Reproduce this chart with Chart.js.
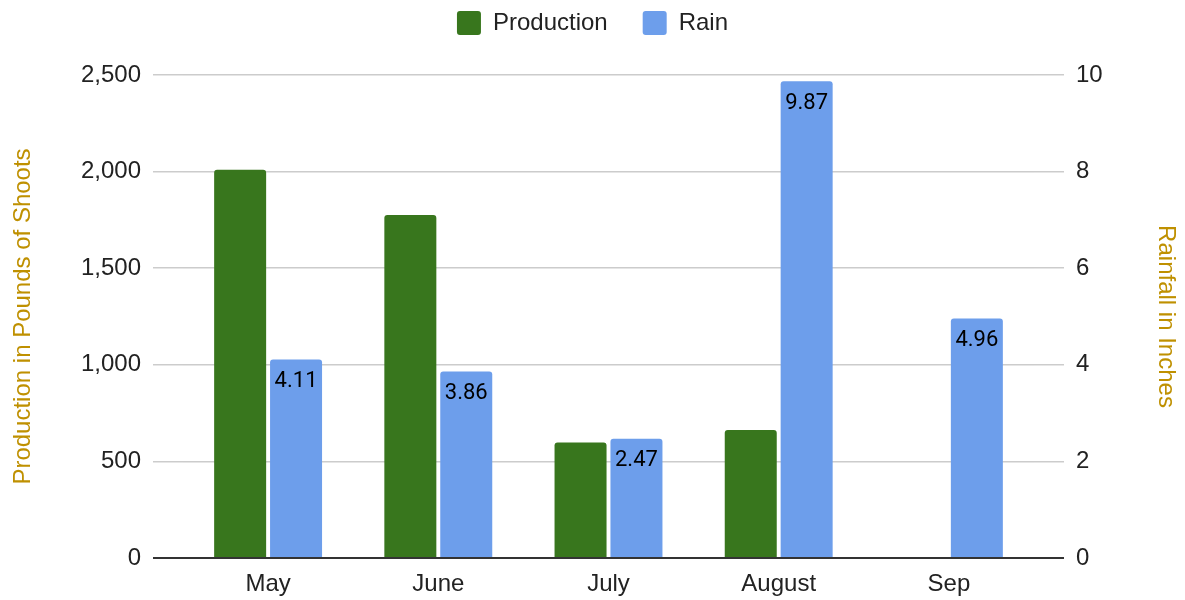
<!DOCTYPE html>
<html>
<head>
<meta charset="utf-8">
<script src="https://cdn.jsdelivr.net/npm/chart.js@4.4.1/dist/chart.umd.min.js"></script>
<style>
  html, body { margin: 0; padding: 0; background: #fff; }
  #wrap { width: 1185px; height: 600px; }
</style>
</head>
<body>
<div id="wrap"><canvas id="myChart"></canvas></div>
<script>
var months = ["May", "June", "July", "August", "Sep"];
var production = [2010, 1775, 598, 662, null];
var rain = [4.11, 3.86, 2.47, 9.87, 4.96];

Chart.defaults.font.family = "'Liberation Sans', Arial, sans-serif";
Chart.defaults.font.size = 24;
Chart.defaults.color = '#222';

// grid colour: dark baseline, light grey elsewhere
function gridColor(c) {
    return c.tick && c.tick.value === 0 ? '#333' : '#ccc';
}
function gridWidth(c) {
    return c.tick && c.tick.value === 0 ? 2 : 1.5;
}

// make the legend block a fixed height so the plot starts lower
var legendHeight = {
    id: 'legendHeight',
    afterInit: function(chart) {
        var lg = chart.legend;
        var fit = lg.fit;
        lg.fit = function() {
            fit.call(this);
            this.height = 99;
        };
    }
};

// values written inside the top of the rain bars
var rainLabels = {
    id: 'rainLabels',
    afterDatasetsDraw: function(chart) {
        var ctx = chart.ctx;
        var meta = chart.getDatasetMeta(1);
        ctx.save();
        ctx.font = "22px Roboto, 'Liberation Sans', sans-serif";
        ctx.fillStyle = '#000';
        ctx.textAlign = 'center';
        ctx.textBaseline = 'middle';
        meta.data.forEach(function(bar, i) {
            if (rain[i] == null) return;
            ctx.fillText(rain[i].toFixed(2), bar.x, bar.y + 22);
        });
        ctx.restore();
    }
};

var ctx = document.getElementById('myChart').getContext('2d');
var myChart = new Chart(ctx, {
    type: 'bar',
    data: {
        labels: months,
        datasets: [{
            label: 'Production',
            data: production,
            yAxisID: 'y',
            backgroundColor: '#38761d',
            borderRadius: 3,
            categoryPercentage: 0.657,
            barPercentage: 0.93
        }, {
            label: 'Rain',
            data: rain,
            yAxisID: 'y1',
            backgroundColor: '#6d9eeb',
            borderRadius: 3,
            categoryPercentage: 0.657,
            barPercentage: 0.93
        }]
    },
    options: {
        responsive: true,
        maintainAspectRatio: false,
        animation: false,
        layout: { padding: { top: -24 } },
        plugins: {
            legend: {
                position: 'top',
                labels: {
                    boxWidth: 24,
                    boxHeight: 24,
                    padding: 35,
                    color: '#222',
                    font: { size: 24 },
                    useBorderRadius: true,
                    borderRadius: 3
                }
            },
            tooltip: { enabled: false }
        },
        scales: {
            x: {
                grid: { display: false },
                border: { display: false },
                ticks: { padding: 4, color: '#222' },
                afterFit: function(s) { s.height = 42; }
            },
            y: {
                position: 'left',
                min: 0,
                max: 2500,
                ticks: { stepSize: 500, padding: 12, color: '#222' },
                grid: { color: gridColor, lineWidth: gridWidth, tickLength: 30 },
                border: { display: false },
                title: {
                    display: true,
                    text: 'Production in Pounds of Shoots',
                    color: '#bf9000',
                    font: { size: 24 },
                    padding: { top: 9, bottom: 0 }
                },
                afterFit: function(s) { s.width = 183; }
            },
            y1: {
                position: 'right',
                min: 0,
                max: 10,
                ticks: { stepSize: 2, padding: 12, color: '#222' },
                grid: { drawOnChartArea: false, color: gridColor, lineWidth: gridWidth, tickLength: 30 },
                border: { display: false },
                title: {
                    display: true,
                    text: 'Rainfall in Inches',
                    color: '#bf9000',
                    font: { size: 24 },
                    padding: { top: 5, bottom: 0 }
                },
                afterFit: function(s) { s.width = 151; }
            }
        }
    },
    plugins: [legendHeight, rainLabels]
});
</script>
</body>
</html>
